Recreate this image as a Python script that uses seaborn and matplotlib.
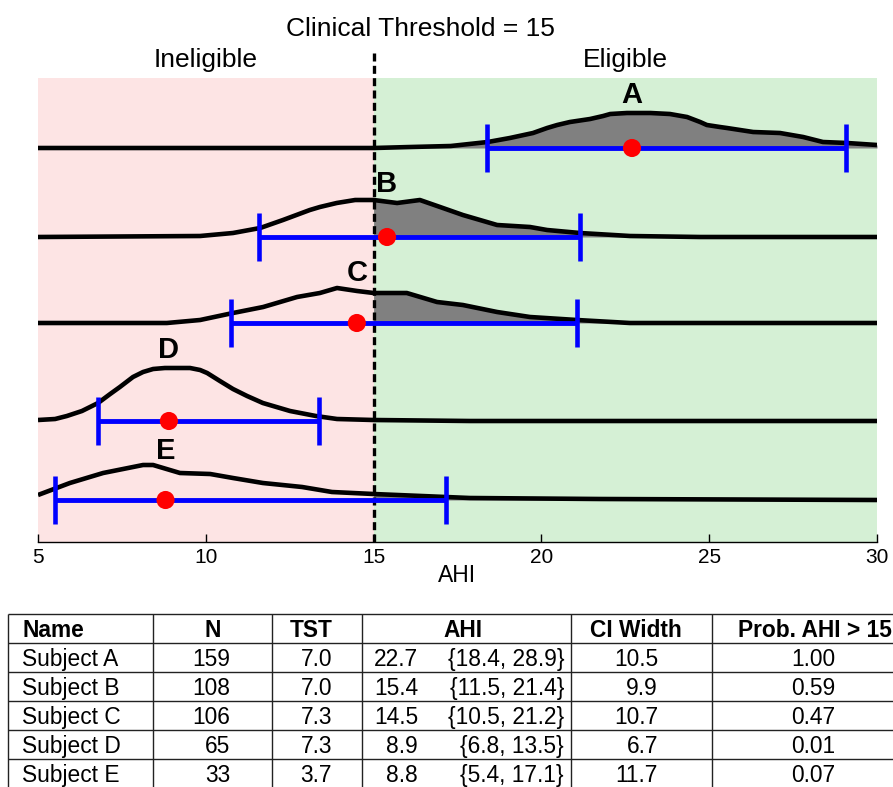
import numpy as np
import pandas as pd
import matplotlib
matplotlib.use("Agg")
import matplotlib.pyplot as plt
import matplotlib.transforms as mtransforms
import seaborn as sns

# ---------------- data ----------------
letters = ["A", "B", "C", "D", "E"]
n_obs = [159, 108, 106, 65, 33]
tst = [7.0, 7.0, 7.3, 7.3, 3.7]
ahi_mean = [22.7, 15.4, 14.5, 8.9, 8.8]
ci_low = [18.4, 11.5, 10.5, 6.8, 5.4]          # as printed in the table
ci_high = [28.9, 21.4, 21.2, 13.5, 17.1]
ci_width = [10.5, 9.9, 10.7, 6.7, 11.7]
prob_gt = [1.00, 0.59, 0.47, 0.01, 0.07]
# interval ends as drawn in the chart
bar_low = [18.38, 11.58, 10.75, 6.79, 5.5]
bar_high = [29.08, 21.15, 21.06, 13.37, 17.16]
threshold = 15
x_ticks = [5, 10, 15, 20, 25, 30]

# posterior density curves (AHI value, relative height)
dens_A_x = [5, 15, 16.1, 17.3, 18.4, 19.06, 19.75, 20.17, 20.47, 20.85, 21.45, 21.84, 22.05, 22.55, 23.25,
            23.83, 24.34, 24.73, 24.93, 25.32, 25.53, 26.31, 27.11, 27.8, 28.39, 29.11, 30]
dens_A_h = [0, 0, 1, 2, 6, 10, 15, 20, 23, 26, 29, 32, 34, 35, 35,
            34, 31, 26, 23, 21, 20, 16, 15, 11, 6, 5, 3]
dens_B_x = [5, 9.83, 10.81, 11.62, 12.3, 13.1, 13.4, 13.9, 14.45, 15.0, 15.7, 16.38, 16.98, 17.66, 18.68,
            19.66, 20.17, 21.15, 22.64, 24.73, 30]
dens_B_h = [0, 1, 4, 9, 17, 27, 30, 34, 37, 37, 34, 37, 30, 22, 12,
            10, 7, 4, 1, 0, 0]
dens_C_x = [5, 8.84, 9.83, 10.81, 11.71, 12.72, 13.4, 13.91, 14.51, 15.0, 15.99, 16.89, 17.66, 18.68,
            19.66, 21.06, 22.64, 30]
dens_C_h = [0, 0, 3, 10, 16, 26, 30, 35, 32, 30, 30, 21, 18, 11,
            6, 3, 0, 0]
dens_D_x = [5, 5.51, 5.86, 6.31, 6.79, 7.15, 7.44, 7.83, 8.13, 8.43, 8.78, 9.53, 9.83, 10.04, 10.42,
            10.81, 11.23, 11.7, 12.51, 13.28, 13.91, 15.0, 17.87, 30]
dens_D_h = [1, 2, 5, 10, 18, 27, 34, 44, 49, 52, 53, 53, 51, 48, 40,
            32, 25, 18, 10, 5, 2, 1, 0, 0]
dens_E_x = [5, 5.95, 6.94, 8.13, 8.43, 9.23, 10.13, 10.81, 11.7, 12.87, 13.76, 15.0, 17.87, 21.75, 30]
dens_E_h = [5, 17, 27, 35, 35, 27, 26, 22, 17, 13, 8, 6, 2, 1, 0]

dens_x = [dens_A_x, dens_B_x, dens_C_x, dens_D_x, dens_E_x]
dens_h = [dens_A_h, dens_B_h, dens_C_h, dens_D_h, dens_E_h]

# ---------------- layout / style ----------------
W, H = 893, 787
ridge_base = [394, 305, 219, 121, 42]   # vertical offsets of each ridge
PINK = "#fde4e4"
GREEN = "#d5f0d5"

sns.set_theme(style="ticks")
plt.rcParams["font.family"] = ["Liberation Sans", "DejaVu Sans"]
plt.rcParams["text.color"] = "black"
plt.rcParams["axes.labelcolor"] = "black"

fig = plt.figure(figsize=(W / 100, H / 100), dpi=100)
ax = fig.add_axes([38 / W, 1 - 542 / H, 839 / W, 464 / H])
ax.set_xlim(5, 30)
ax.set_ylim(0, 464)

ax.axvspan(5, threshold, color=PINK, lw=0, zorder=0)
ax.axvspan(threshold, 30, color=GREEN, lw=0, zorder=0)

for i, let in enumerate(letters):
    x = np.array(dens_x[i], dtype=float)
    h = np.array(dens_h[i], dtype=float)
    base = ridge_base[i]
    m = x >= threshold
    ax.fill_between(x[m], base, base + h[m], color="#808080", lw=0, zorder=2)
    df = pd.DataFrame({"AHI": x, "y": base + h})
    sns.lineplot(data=df, x="AHI", y="y", color="black", lw=3.3, ax=ax,
                 sort=False, estimator=None, zorder=3,
                 solid_joinstyle="round", solid_capstyle="butt")
    mu = ahi_mean[i]
    ax.errorbar([mu], [base], xerr=[[mu - bar_low[i]], [bar_high[i] - mu]],
                fmt="none", ecolor="blue", elinewidth=3.5, capsize=17.3,
                capthick=3.3, zorder=5)
    hy = np.interp(mu, x, h)
    ax.text(mu, base + hy + 10, let, ha="center", va="baseline",
            fontsize=21, fontweight="bold", color="black", zorder=7)

pts = pd.DataFrame({"AHI": ahi_mean, "y": ridge_base})
sns.scatterplot(data=pts, x="AHI", y="y", color="red", s=170,
                edgecolor="none", ax=ax, zorder=6, legend=False)

ax.axvline(threshold, ymin=0, ymax=(542 - 50) / 464, color="black", lw=2.4,
           ls=(0, (2.4, 1.3)), clip_on=False, zorder=4)

for s in ["left", "top", "right"]:
    ax.spines[s].set_visible(False)
ax.spines["bottom"].set_color("black")
ax.spines["bottom"].set_linewidth(1.0)
ax.spines["bottom"].set_zorder(8)
ax.set_yticks([])
ax.set_xticks(x_ticks)
ax.set_xticklabels([str(t) for t in x_ticks])
ax.tick_params(axis="x", direction="in", length=6, width=1, color="black",
               labelsize=15, pad=4, bottom=True, labelcolor="black")
ax.set_xlabel("AHI", fontsize=16.5, color="black")
ax.set_ylabel("")
ax.xaxis.label.set_verticalalignment("baseline")
ax.xaxis.set_label_coords(0.5, (542 - 582) / 464)

blend = mtransforms.blended_transform_factory(ax.transData, ax.transAxes)
ax.text((5 + threshold) / 2, 1 + (78 - 67) / 464, "Ineligible", transform=blend,
        ha="center", va="baseline", fontsize=19)
ax.text((threshold + 30) / 2, 1 + (78 - 67) / 464, "Eligible", transform=blend,
        ha="center", va="baseline", fontsize=19)
fig.text(420.5 / W, 1 - 36 / H, f"Clinical Threshold = {threshold}",
         ha="center", va="baseline", fontsize=19)

# ---------------- table ----------------
tax = fig.add_axes([0, 0, 1, 187 / H])
tax.set_xlim(0, W)
tax.set_ylim(H, 600)
tax.axis("off")

row_lines = [614, 643, 672, 701, 730, 759, 788]
col_lines = [8, 153, 272, 362, 571, 712, 918]
tax.hlines(row_lines, col_lines[0], col_lines[-1], color="#222222", lw=1.0, clip_on=False)
tax.vlines(col_lines, row_lines[0], row_lines[-1], color="#222222", lw=1.0, clip_on=False)

headers = ["Name", "N", "TST", "AHI", "CI Width", "Prob. AHI > 15"]
hdr_x = [22, 212.5, 311, 463, 636, 815]
hdr_ha = ["left", "center", "center", "center", "center", "center"]
fs = 16.4
for t, xx, ha in zip(headers, hdr_x, hdr_ha):
    tax.text(xx, row_lines[1] - 6, t, ha=ha, va="baseline", fontsize=fs,
             fontweight="bold", clip_on=False)

for i, let in enumerate(letters):
    yb = row_lines[i + 2] - 6
    cells = [
        (22, "left", f"Subject {let}"),
        (230, "right", f"{n_obs[i]}"),
        (332, "right", f"{tst[i]:.1f}"),
        (418, "right", f"{ahi_mean[i]:.1f}"),
        (564, "right", f"{{{ci_low[i]:.1f}, {ci_high[i]:.1f}}}"),
        (658, "right", f"{ci_width[i]:.1f}"),
        (835, "right", f"{prob_gt[i]:.2f}"),
    ]
    for xx, ha, t in cells:
        tax.text(xx, yb, t, ha=ha, va="baseline", fontsize=fs, clip_on=False)

fig.savefig("out.png", dpi=100)
